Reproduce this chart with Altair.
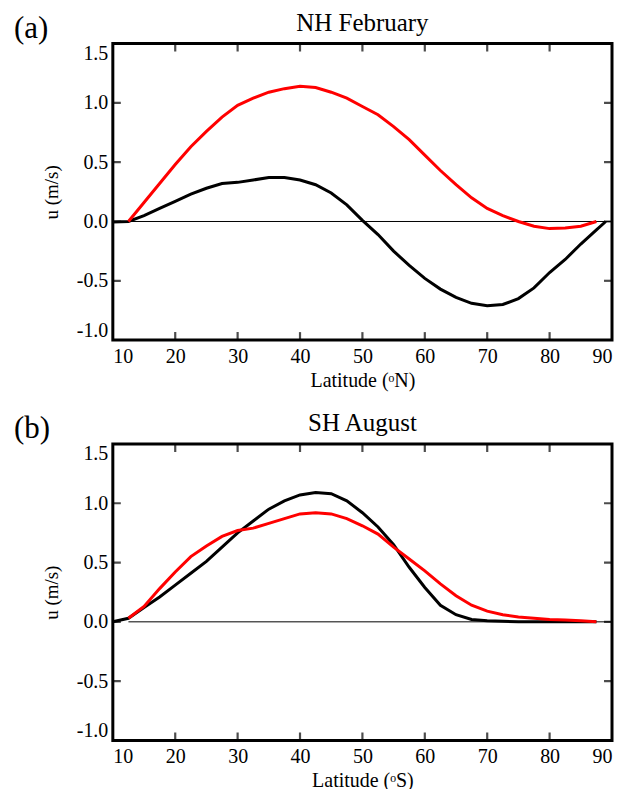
import altair as alt
import pandas as pd

FONT = "Liberation Serif"

# ---------------- data ----------------
panel_titles = ["NH February", "SH August"]
panel_labels = ["(a)", "(b)"]
x_titles = ["Latitude (ᵒN)", "Latitude (ᵒS)"]

x_tick_values = [10, 20, 30, 40, 50, 60, 70, 80, 90]
y_tick_values = [-1.0, -0.5, 0.0, 0.5, 1.0, 1.5]

# (a) NH February
nh_red_lat = [12.5, 15, 17.5, 20, 22.5, 25, 27.5, 30, 32.5, 35, 37.5, 40, 42.5, 45, 47.5,
              50, 52.5, 55, 57.5, 60, 62.5, 65, 67.5, 70, 72.5, 75, 77.5, 80, 82.5, 85, 87.5]
nh_red_u = [0.00, 0.16, 0.32, 0.48, 0.63, 0.76, 0.88, 0.98, 1.04, 1.09, 1.12, 1.14, 1.13, 1.09, 1.04,
            0.97, 0.90, 0.80, 0.69, 0.56, 0.43, 0.31, 0.20, 0.11, 0.05, 0.00, -0.04, -0.06, -0.055, -0.04, 0.00]

nh_black_lat = [10, 12.5, 15, 17.5, 20, 22.5, 25, 27.5, 30, 32.5, 35, 37.5, 40, 42.5, 45, 47.5,
                50, 52.5, 55, 57.5, 60, 62.5, 65, 67.5, 70, 72.5, 75, 77.5, 80, 82.5, 85, 87.5, 89]
nh_black_u = [-0.005, 0.00, 0.05, 0.11, 0.17, 0.23, 0.28, 0.32, 0.33, 0.35, 0.37, 0.37, 0.35, 0.31, 0.24, 0.14,
              0.01, -0.11, -0.25, -0.37, -0.48, -0.57, -0.64, -0.69, -0.71, -0.70, -0.65, -0.56, -0.43, -0.32, -0.19, -0.07, 0.00]

# (b) SH August
sh_red_lat = [12.5, 15, 17.5, 20, 22.5, 25, 27.5, 30, 32.5, 35, 37.5, 40, 42.5, 45, 47.5,
              50, 52.5, 55, 57.5, 60, 62.5, 65, 67.5, 70, 72.5, 75, 77.5, 80, 82.5, 85, 87.5]
sh_red_u = [0.03, 0.13, 0.28, 0.42, 0.55, 0.64, 0.72, 0.77, 0.79, 0.83, 0.87, 0.91, 0.92, 0.91, 0.87,
            0.81, 0.74, 0.63, 0.53, 0.43, 0.32, 0.22, 0.14, 0.09, 0.06, 0.04, 0.03, 0.02, 0.015, 0.01, 0.00]

sh_black_lat = [10, 12.5, 15, 17.5, 20, 22.5, 25, 27.5, 30, 32.5, 35, 37.5, 40, 42.5, 45, 47.5,
                50, 52.5, 55, 57.5, 60, 62.5, 65, 67.5, 70, 72.5, 75, 77.5, 80, 82.5, 85, 87.5]
sh_black_u = [0.00, 0.03, 0.12, 0.21, 0.31, 0.41, 0.51, 0.63, 0.75, 0.85, 0.95, 1.02, 1.07, 1.09, 1.08, 1.02,
              0.92, 0.80, 0.65, 0.46, 0.29, 0.14, 0.06, 0.02, 0.01, 0.005, 0.0, 0.0, 0.0, 0.0, 0.0, 0.0]

zero_line_start = 12.5

series_names = ["black", "red"]
series_colors = ["#000000", "#ff0000"]

W, H = 500, 297


def make_panel(idx, black_lat, black_u, red_lat, red_u):
    df = pd.concat([
        pd.DataFrame({"lat": black_lat, "u": black_u, "series": series_names[0]}),
        pd.DataFrame({"lat": red_lat, "u": red_u, "series": series_names[1]}),
    ])
    xs = alt.Scale(domain=[x_tick_values[0], x_tick_values[-1]], nice=False, zero=False)
    ys = alt.Scale(domain=[y_tick_values[0], y_tick_values[-1]], nice=False, zero=False)

    x_axis = alt.Axis(values=x_tick_values, title=x_titles[idx], labelPadding=6, titlePadding=4)
    y_axis = alt.Axis(values=y_tick_values, title="u (m/s)", labelPadding=5, titlePadding=15,
                      labelFlush=True, titleFontSize=19,
                      labelExpr="replace(format(datum.value, '.1f'), '\u2212', '-')")

    zero_df = pd.DataFrame({"x0": [zero_line_start], "x1": [x_tick_values[-1]], "y": [0.0]})
    zero = alt.Chart(zero_df).mark_rule(color="black", strokeWidth=1).encode(
        x=alt.X("x0:Q", scale=xs, axis=x_axis), x2="x1:Q",
        y=alt.Y("y:Q", scale=ys, axis=y_axis))

    lines = alt.Chart(df).mark_line(strokeWidth=3).encode(
        x=alt.X("lat:Q", scale=xs),
        y=alt.Y("u:Q", scale=ys),
        color=alt.Color("series:N", scale=alt.Scale(domain=series_names, range=series_colors), legend=None),
        order="lat:Q")

    xt_rows = [{"x": v, "y": e} for v in x_tick_values[1:-1] for e in (y_tick_values[0], y_tick_values[-1])]
    yt_rows = [{"x": e, "y": v} for v in y_tick_values[1:-1] for e in (x_tick_values[0], x_tick_values[-1])]
    xticks = alt.Chart(pd.DataFrame(xt_rows)).mark_tick(
        orient="vertical", size=16, thickness=2.2, color="black", clip=True).encode(
        x=alt.X("x:Q", scale=xs), y=alt.Y("y:Q", scale=ys))
    yticks = alt.Chart(pd.DataFrame(yt_rows)).mark_tick(
        orient="horizontal", size=16, thickness=2.2, color="black", clip=True).encode(
        x=alt.X("x:Q", scale=xs), y=alt.Y("y:Q", scale=ys))

    ann = pd.DataFrame({"label": [panel_labels[idx]], "title": [panel_titles[idx]]})
    lab = alt.Chart(ann).mark_text(
        align="left", baseline="alphabetic", fontSize=31, font=FONT, color="black").encode(
        x=alt.value(-99), y=alt.value(-6), text="label:N")
    ttl = alt.Chart(ann).mark_text(
        align="center", baseline="alphabetic", fontSize=25, font=FONT, color="black").encode(
        x=alt.value(W / 2), y=alt.value(-12.5), text="title:N")

    return alt.layer(zero, lines, xticks, yticks, lab, ttl).properties(width=W, height=H)


top = make_panel(0, nh_black_lat, nh_black_u, nh_red_lat, nh_red_u)
bottom = make_panel(1, sh_black_lat, sh_black_u, sh_red_lat, sh_red_u)

chart = alt.vconcat(top, bottom, spacing=18).properties(
    padding={"left": 4, "top": 1, "right": 0, "bottom": 0}
).configure_view(stroke="black", strokeWidth=3).configure_axis(
    labelFont=FONT, titleFont=FONT, labelFontSize=20, titleFontSize=20,
    titleFontWeight="normal", labelColor="black", titleColor="black",
    ticks=False, tickSize=0, domain=False, grid=False)

chart.save("out.html", embed_options={"renderer": "svg", "actions": False})
